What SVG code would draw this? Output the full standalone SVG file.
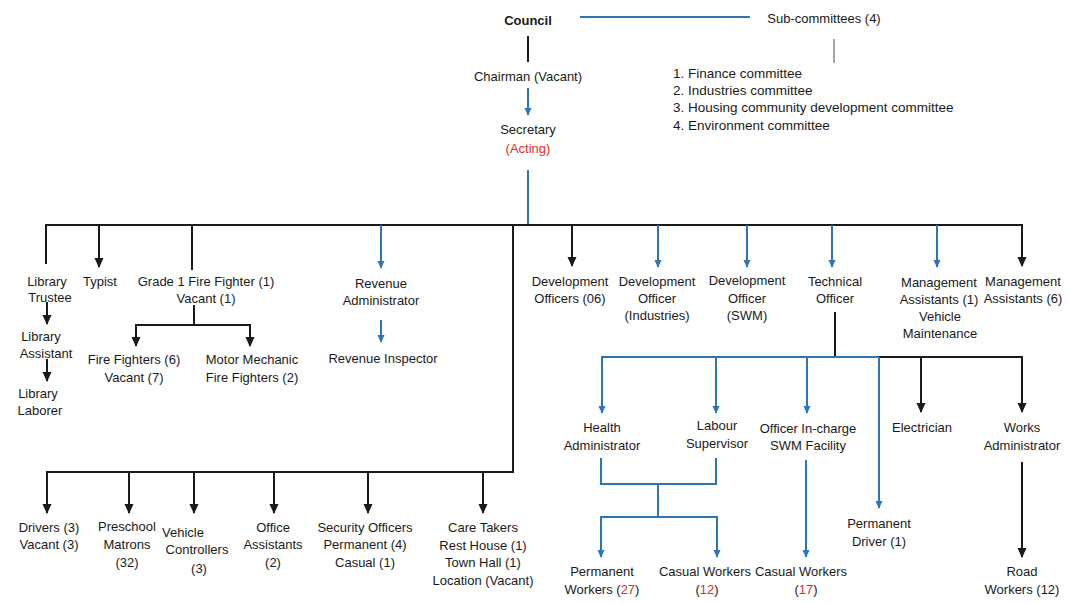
<svg xmlns="http://www.w3.org/2000/svg" width="1068" height="603" viewBox="0 0 1068 603">
  <style>
    text { font-family: "Liberation Sans", Arial, sans-serif; font-size: 13px; fill: #1a1a1a; text-anchor: middle; }
    .l { text-anchor: start; }
    .list { font-size: 13.5px; }
    .b { font-weight: bold; }
    .red { fill: #d9302c; }
    .k { stroke: #1a1a1a; stroke-width: 2; fill: none; }
    .u { stroke: #2e75b6; stroke-width: 2; fill: none; }
    .g { stroke: #8a8a8a; stroke-width: 1.5; fill: none; }
    .ka { stroke: #1a1a1a; stroke-width: 2; fill: none; marker-end: url(#ah-k); }
    .ua { stroke: #2e75b6; stroke-width: 2; fill: none; marker-end: url(#ah-u); }
  </style>
  <defs>
    <marker id="ah-k" viewBox="0 0 10 10" refX="9" refY="5" markerWidth="10" markerHeight="10" markerUnits="userSpaceOnUse" orient="auto-start-reverse">
      <path d="M0,0.5 L10,5 L0,9.5 Z" fill="#1a1a1a"/>
    </marker>
    <marker id="ah-u" viewBox="0 0 10 10" refX="9" refY="5" markerWidth="8" markerHeight="8" markerUnits="userSpaceOnUse" orient="auto-start-reverse">
      <path d="M0,0.5 L10,5 L0,9.5 Z" fill="#2e75b6"/>
    </marker>
  </defs>
  <rect width="1068" height="603" fill="#ffffff"/>

  <!-- connectors -->
  <g id="connectors">
    <!-- top -->
    <line class="u" x1="580" y1="17" x2="750" y2="17"/>
    <line class="g" x1="834" y1="39" x2="834" y2="63"/>
    <line class="k" x1="528" y1="36" x2="528" y2="62"/>
    <line class="ua" x1="528" y1="88" x2="528" y2="115"/>
    <line class="u" x1="528" y1="170" x2="528" y2="225"/>
    <!-- main bus -->
    <line class="k" x1="45" y1="225" x2="1023" y2="225"/>
    <!-- left branches -->
    <line class="k" x1="46" y1="225" x2="46" y2="264"/>
    <line class="ka" x1="99" y1="225" x2="99" y2="267"/>
    <line class="k" x1="192" y1="225" x2="192" y2="270"/>
    <line class="ua" x1="381" y1="225" x2="381" y2="268"/>
    <line class="ua" x1="381" y1="320" x2="381" y2="342"/>
    <!-- library chain -->
    <line class="ka" x1="47" y1="302" x2="47" y2="324"/>
    <line class="ka" x1="47" y1="359" x2="47" y2="381"/>
    <!-- fire fighters -->
    <line class="k" x1="194" y1="305" x2="194" y2="325"/>
    <path class="k" d="M136,346 V325 H250 V346" marker-start="url(#ah-k)" marker-end="url(#ah-k)"/>
    <!-- lower-left bus -->
    <line class="k" x1="513" y1="225" x2="513" y2="472"/>
    <line class="k" x1="46" y1="472" x2="514" y2="472"/>
    <line class="ka" x1="47" y1="472" x2="47" y2="513"/>
    <line class="ka" x1="129" y1="472" x2="129" y2="513"/>
    <line class="ka" x1="194" y1="472" x2="194" y2="513"/>
    <line class="ka" x1="274" y1="472" x2="274" y2="513"/>
    <line class="ka" x1="368" y1="472" x2="368" y2="513"/>
    <line class="ka" x1="483" y1="472" x2="483" y2="513"/>
    <!-- right branches -->
    <line class="ka" x1="572" y1="225" x2="572" y2="266"/>
    <line class="ua" x1="658" y1="225" x2="658" y2="267"/>
    <line class="ua" x1="747" y1="225" x2="747" y2="267"/>
    <line class="ua" x1="832" y1="225" x2="832" y2="267"/>
    <line class="ua" x1="937" y1="225" x2="937" y2="267"/>
    <line class="ka" x1="1022" y1="225" x2="1022" y2="266"/>
    <!-- technical officer subtree -->
    <line class="k" x1="835" y1="312" x2="835" y2="357"/>
    <line class="u" x1="601" y1="357" x2="879" y2="357"/>
    <line class="k" x1="879" y1="357" x2="1023" y2="357"/>
    <line class="ua" x1="602" y1="357" x2="602" y2="413"/>
    <line class="ua" x1="716" y1="357" x2="716" y2="413"/>
    <line class="ua" x1="807" y1="357" x2="807" y2="413"/>
    <line class="ua" x1="879" y1="357" x2="879" y2="508"/>
    <line class="ka" x1="921" y1="357" x2="921" y2="412"/>
    <line class="ka" x1="1022" y1="357" x2="1022" y2="412"/>
    <!-- workers -->
    <path class="u" d="M601,458 V484 H716 V458"/>
    <line class="u" x1="658" y1="484" x2="658" y2="517"/>
    <path class="u" d="M601,557 V517 H717 V557" marker-start="url(#ah-u)" marker-end="url(#ah-u)"/>
    <line class="ua" x1="806" y1="460" x2="806" y2="557"/>
    <line class="ka" x1="1022" y1="462" x2="1022" y2="557"/>
  </g>

  <!-- top -->
  <g id="council"><text class="b" x="528" y="25">Council</text></g>
  <g id="subcommittees"><text x="824" y="23">Sub-committees (4)</text></g>
  <g id="committee-list">
    <text class="l list" x="673" y="78">1. Finance committee</text>
    <text class="l list" x="673" y="95">2. Industries committee</text>
    <text class="l list" x="673" y="112">3. Housing community development committee</text>
    <text class="l list" x="673" y="130">4. Environment committee</text>
  </g>
  <g id="chairman"><text x="528" y="81">Chairman (Vacant)</text></g>
  <g id="secretary">
    <text x="528" y="134">Secretary</text>
    <text class="red" x="528" y="153">(Acting)</text>
  </g>

  <!-- left column -->
  <g id="library-trustee"><text x="47" y="286">Library</text><text x="50" y="302">Trustee</text></g>
  <g id="library-assistant"><text x="41" y="341">Library</text><text x="46" y="358">Assistant</text></g>
  <g id="library-laborer"><text x="38" y="398">Library</text><text x="40" y="415">Laborer</text></g>
  <g id="typist"><text x="100" y="286">Typist</text></g>
  <g id="grade1-fire-fighter"><text x="206" y="286">Grade 1  Fire Fighter (1)</text><text x="206" y="303">Vacant (1)</text></g>
  <g id="fire-fighters"><text x="134" y="364">Fire Fighters (6)</text><text x="134" y="382">Vacant (7)</text></g>
  <g id="motor-mechanic"><text x="252" y="364">Motor Mechanic</text><text x="252" y="382">Fire Fighters (2)</text></g>
  <g id="revenue-administrator"><text x="381" y="288">Revenue</text><text x="381" y="305">Administrator</text></g>
  <g id="revenue-inspector"><text x="383" y="363">Revenue Inspector</text></g>

  <!-- lower-left row -->
  <g id="drivers"><text x="49" y="532">Drivers (3)</text><text x="49" y="549">Vacant (3)</text></g>
  <g id="preschool-matrons"><text x="127" y="531">Preschool</text><text x="127" y="549">Matrons</text><text x="127" y="567">(32)</text></g>
  <g id="vehicle-controllers"><text class="l" x="162" y="537">Vehicle</text><text x="197" y="554">Controllers</text><text x="199" y="573">(3)</text></g>
  <g id="office-assistants"><text x="273" y="532">Office</text><text x="273" y="549">Assistants</text><text x="273" y="567">(2)</text></g>
  <g id="security-officers"><text x="365" y="532">Security Officers</text><text x="365" y="549">Permanent (4)</text><text x="365" y="567">Casual (1)</text></g>
  <g id="care-takers"><text x="483" y="532">Care Takers</text><text x="483" y="550">Rest House (1)</text><text x="483" y="567">Town Hall (1)</text><text x="483" y="585">Location (Vacant)</text></g>

  <!-- right row -->
  <g id="development-officers"><text x="570" y="286">Development</text><text x="570" y="303">Officers (06)</text></g>
  <g id="dev-officer-industries"><text x="657" y="286">Development</text><text x="657" y="303">Officer</text><text x="657" y="320">(Industries)</text></g>
  <g id="dev-officer-swm"><text x="747" y="285">Development</text><text x="747" y="303">Officer</text><text x="747" y="320">(SWM)</text></g>
  <g id="technical-officer"><text x="835" y="286">Technical</text><text x="835" y="303">Officer</text></g>
  <g id="mgmt-assistants-vehicle"><text x="939" y="287">Management</text><text x="939" y="304">Assistants (1)</text><text x="940" y="321">Vehicle</text><text x="940" y="338">Maintenance</text></g>
  <g id="mgmt-assistants"><text x="1023" y="286">Management</text><text x="1023" y="303">Assistants (6)</text></g>

  <!-- technical officer subtree -->
  <g id="health-administrator"><text x="602" y="432">Health</text><text x="602" y="450">Administrator</text></g>
  <g id="labour-supervisor"><text x="717" y="430">Labour</text><text x="717" y="448">Supervisor</text></g>
  <g id="officer-in-charge"><text x="808" y="433">Officer In-charge</text><text x="808" y="450">SWM Facility</text></g>
  <g id="electrician"><text x="922" y="432">Electrician</text></g>
  <g id="works-administrator"><text x="1022" y="432">Works</text><text x="1022" y="450">Administrator</text></g>
  <g id="permanent-workers"><text x="602" y="576">Permanent</text><text x="602" y="594">Workers (<tspan class="red">27</tspan>)</text></g>
  <g id="casual-workers-12"><text x="705" y="576">Casual Workers</text><text x="707" y="594">(<tspan class="red">12</tspan>)</text></g>
  <g id="casual-workers-17"><text x="801" y="576">Casual Workers</text><text x="806" y="594">(<tspan class="red">17</tspan>)</text></g>
  <g id="permanent-driver"><text x="879" y="528">Permanent</text><text x="879" y="546">Driver (1)</text></g>
  <g id="road-workers"><text x="1022" y="576">Road</text><text x="1022" y="594">Workers (12)</text></g>
</svg>
